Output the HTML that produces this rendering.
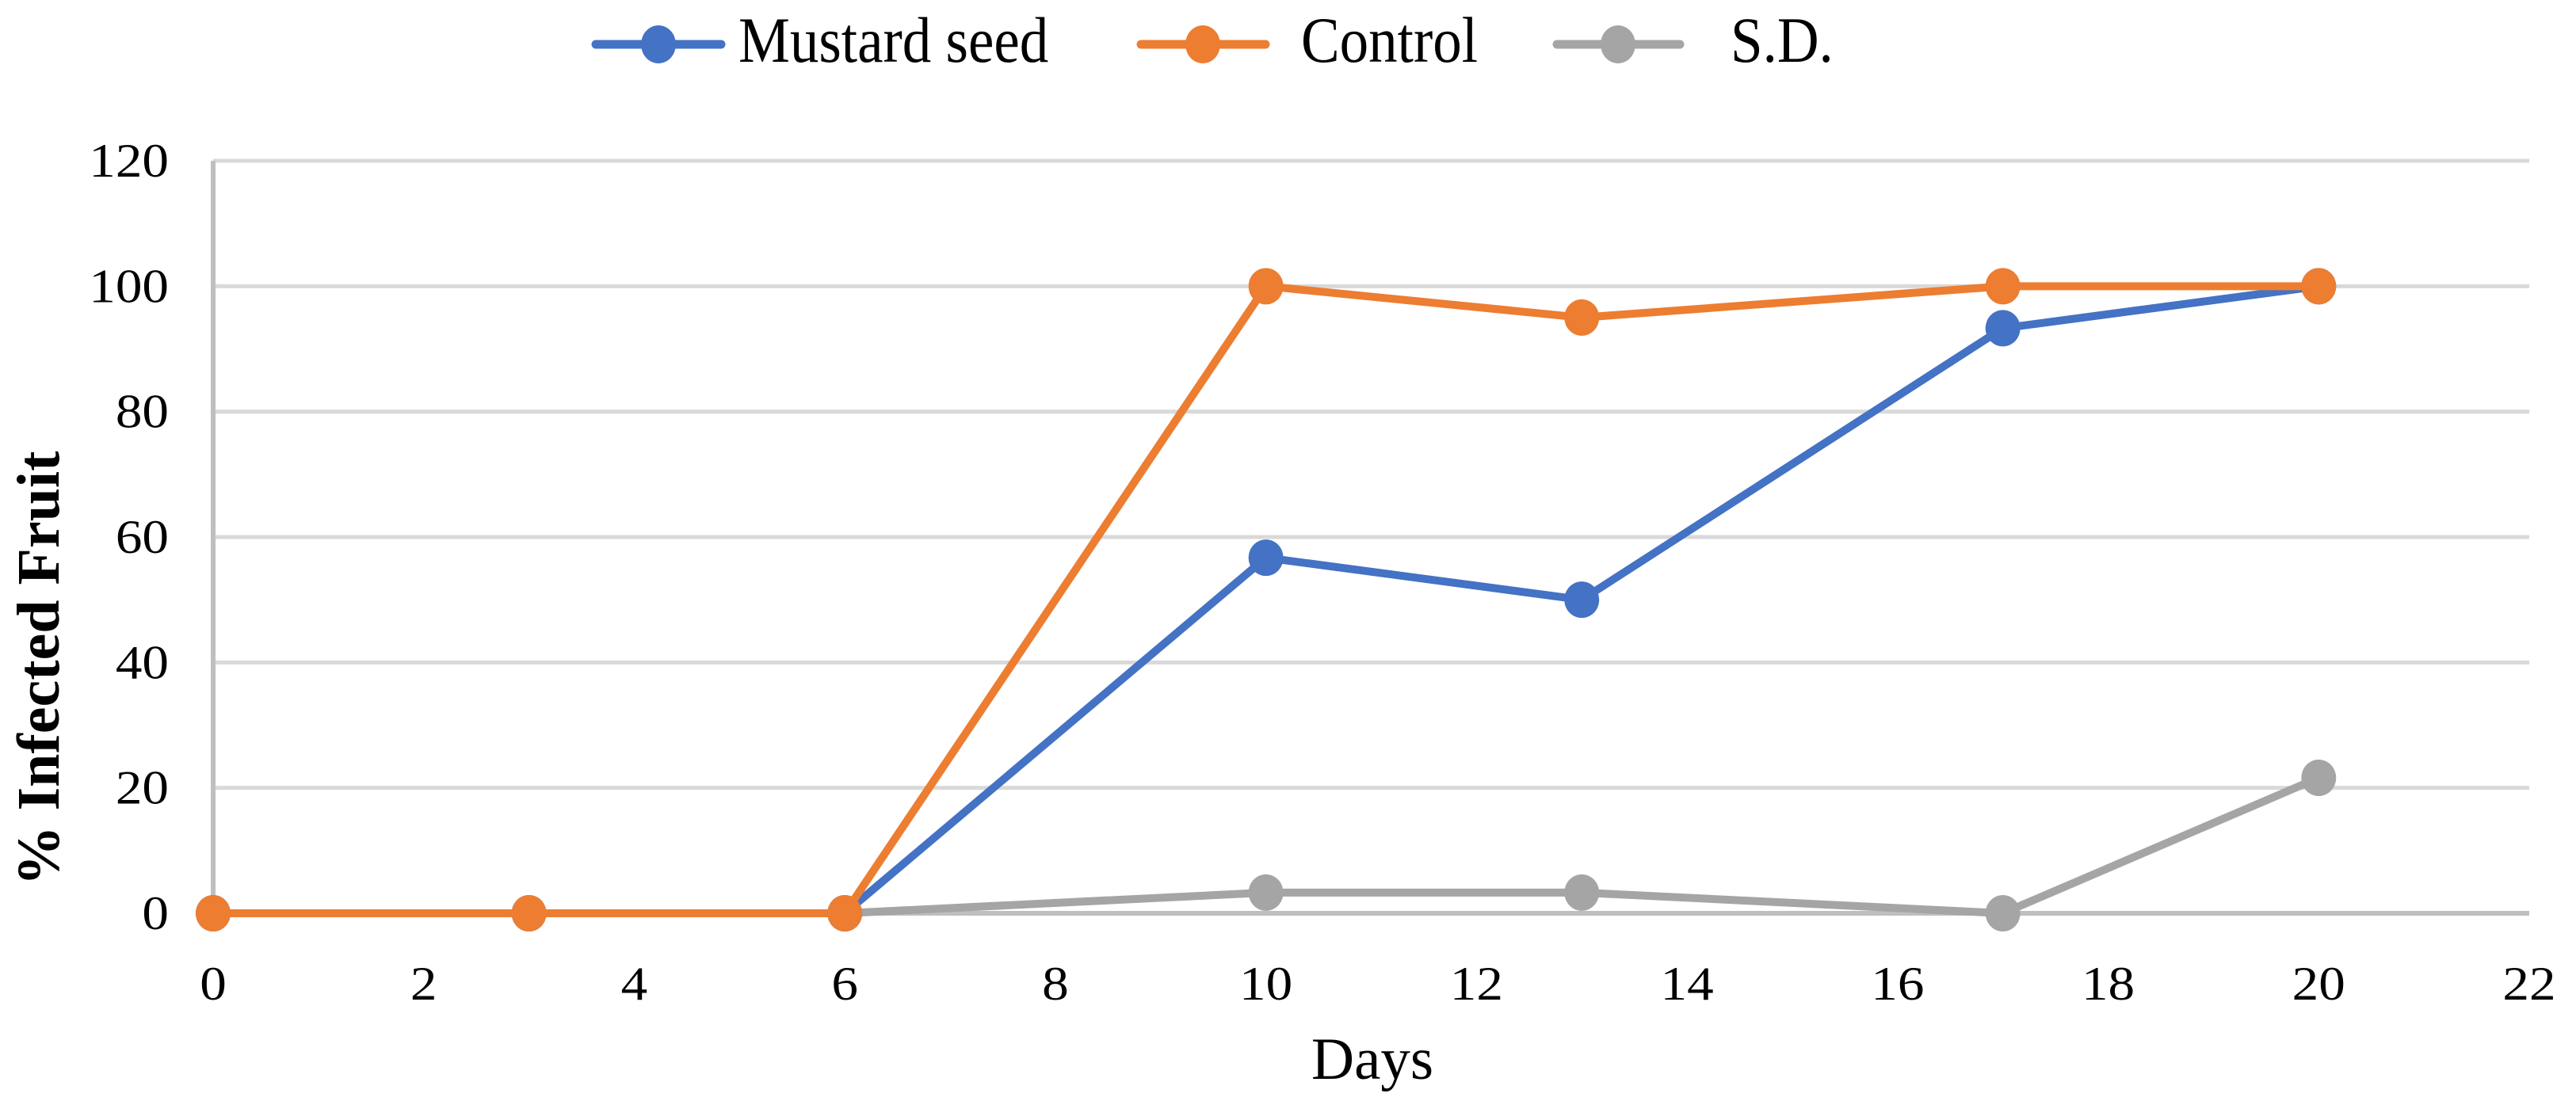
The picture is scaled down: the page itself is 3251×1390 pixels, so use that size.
<!DOCTYPE html>
<html><head><meta charset="utf-8"><style>
html,body{margin:0;padding:0;background:#fff;}
svg{display:block;font-family:"Liberation Serif",serif;}
</style></head><body>
<svg id="chart" width="3251" height="1390" viewBox="0 0 3251 1390">
<g id="grid"></g>
<g id="axes"></g>
<g id="series"></g>
<text x="48" y="844" font-size="76" font-weight="bold" text-anchor="middle" transform="rotate(-90 48 844)" dy="26">% Infected Fruit</text>
<text x="1732" y="1362" font-size="75" text-anchor="middle">Days</text>
<g>
 <g>
  <line x1="752" y1="56" x2="910" y2="56" stroke="#4472c4" stroke-width="11" stroke-linecap="round"/>
  <ellipse cx="831" cy="56" rx="22" ry="24" fill="#4472c4"/>
  <text x="932" y="78" font-size="73" transform="translate(932 78) scale(1,1.12) translate(-932 -78)">Mustard seed</text>
 </g>
 <g>
  <line x1="1440" y1="56" x2="1597" y2="56" stroke="#ed7d31" stroke-width="11" stroke-linecap="round"/>
  <ellipse cx="1518" cy="56" rx="22" ry="24" fill="#ed7d31"/>
  <text x="1642" y="78" font-size="73" transform="translate(1642 78) scale(1,1.12) translate(-1642 -78)">Control</text>
 </g>
 <g>
  <line x1="1965" y1="56" x2="2120" y2="56" stroke="#a5a5a5" stroke-width="11" stroke-linecap="round"/>
  <ellipse cx="2042" cy="56" rx="22" ry="24" fill="#a5a5a5"/>
  <text x="2184" y="78" font-size="73" transform="translate(2184 78) scale(1,1.12) translate(-2184 -78)">S.D.</text>
 </g>
</g>
</svg>
<script>
const days = [0, 3, 6, 10, 13, 17, 20];
const mustardSeed = [0, 0, 0, 56.7, 50, 93.3, 100];
const control = [0, 0, 0, 100, 95, 100, 100];
const sd = [0, 0, 0, 3.3, 3.3, 0, 21.6];
const yTicks = [0, 20, 40, 60, 80, 100, 120];
const xTicks = [0, 2, 4, 6, 8, 10, 12, 14, 16, 18, 20, 22];

const NS = "http://www.w3.org/2000/svg";
const X0 = 269, X1 = 3192, Y0 = 1153, Y1 = 203;
function xs(v){ return X0 + (v - 0) / 22 * (X1 - X0); }
function ys(v){ return Y0 - v / 120 * (Y0 - Y1); }
function mk(tag, attrs, parent){ const e = document.createElementNS(NS, tag); for (const k in attrs) e.setAttribute(k, attrs[k]); parent.appendChild(e); return e; }

const grid = document.getElementById('grid');
const axes = document.getElementById('axes');
yTicks.forEach(t => {
  if (t > 0) {
    const l = mk('line', {x1: X0, x2: X1, y1: ys(t), y2: ys(t), stroke: '#d9d9d9', 'stroke-width': 5}, grid);
    
    
  }
  const ty = ys(t) + 20;
  const tx = mk('text', {x: 0, y: 0, 'font-size': 60, 'text-anchor': 'end', transform: 'translate(213 ' + ty + ') scale(1.12,1)'}, axes);
  tx.textContent = t;
  
  
});
xTicks.forEach(t => {
  const tx = mk('text', {x: 0, y: 0, 'font-size': 60, 'text-anchor': 'middle', transform: 'translate(' + xs(t) + ' 1262) scale(1.12,1)'}, axes);
  tx.textContent = t;
  
  
});
const ya = mk('line', {x1: X0, x2: X0, y1: Y1, y2: Y0, stroke: '#bfbfbf', 'stroke-width': 6}, axes);


const xa = mk('line', {x1: X0, x2: X1, y1: Y0, y2: Y0, stroke: '#bfbfbf', 'stroke-width': 6}, axes);



const seriesG = document.getElementById('series');
const defs = [
  {name: 'sd', vals: sd, color: '#a5a5a5'},
  {name: 'mustard-seed', vals: mustardSeed, color: '#4472c4'},
  {name: 'control', vals: control, color: '#ed7d31'}
];
defs.forEach(s => {
  const g = mk('g', {}, seriesG);
  
  
  const pts = days.map((d, i) => xs(d) + ',' + ys(s.vals[i])).join(' ');
  const pl = mk('polyline', {points: pts, fill: 'none', stroke: s.color, 'stroke-width': 10, 'stroke-linejoin': 'round'}, g);
  
  
  days.forEach((d, i) => {
    const c = mk('ellipse', {cx: xs(d), cy: ys(s.vals[i]), rx: 22, ry: 23, fill: s.color}, g);
    
    
  });
});
</script>
</body></html>
